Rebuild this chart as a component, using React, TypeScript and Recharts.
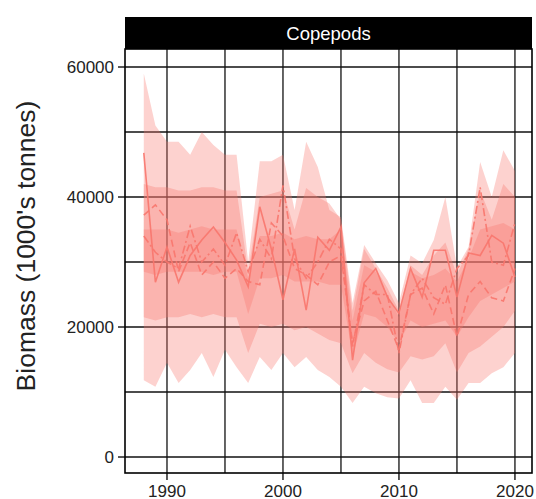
import React from "react";
import { ComposedChart, Area, Line, XAxis, YAxis, CartesianGrid } from "recharts";

const years = [1988,1989,1990,1991,1992,1993,1994,1995,1996,1997,1998,1999,2000,2001,2002,2003,2004,2005,2006,2007,2008,2009,2010,2011,2012,2013,2014,2015,2016,2017,2018,2019,2020];

const solidSeries = [46800,26900,32300,26900,31000,33400,35400,33000,30300,26200,38500,32000,24200,32000,22600,33800,31800,35400,14900,26800,29000,24600,22100,29000,24600,31800,31800,24600,31400,31000,34100,32900,27700];
const dashedSeries = [37200,38800,36500,28500,33000,28000,30000,27500,29000,27000,26500,36000,34000,29000,28000,26500,30000,31000,17500,24000,25500,21000,16500,25000,26000,22000,26500,18500,25000,27000,24500,24000,29000];
const dashDotSeries = [34000,31500,30000,29000,35500,30000,32000,29500,34500,28500,33500,30500,41800,30500,27500,30000,33500,32000,17000,26500,25000,25000,16000,25000,27500,24500,23500,29000,31000,41500,30000,29500,36000];

const outerLow = [11800,10800,14500,11400,13400,16000,12300,16500,13800,11400,15400,13400,16000,13800,15400,13400,12300,10800,8300,10800,9800,9200,9000,11800,8300,8300,10800,8800,11400,11400,12900,13800,16000];
const outerHigh = [59000,51000,48500,48500,46500,50000,48000,46500,46500,30000,45500,45500,46500,38000,48500,44600,38000,36900,23700,32600,29800,27200,23700,31000,29800,33400,40000,29200,32300,45400,40000,47200,44000];
const midLow = [21500,21000,21500,21500,22000,21500,22000,21500,21500,16000,20500,20000,20500,19500,20000,19000,18000,17500,12900,16000,14500,13500,13000,15500,15000,15500,17500,13000,16000,17000,18500,20000,22500];
const midHigh = [42000,41500,41500,41000,41000,41500,41500,41000,41000,28500,40000,40500,41000,35000,41400,40000,39000,36500,22500,32000,29000,26000,22500,29500,28000,31000,33000,28000,32000,41000,36500,42000,40000];
const innerLow = [28500,28000,28500,28500,28500,28500,28000,28500,28500,22000,27500,27500,28000,27000,27000,27000,26500,26500,15500,22000,21500,20000,17500,21000,20000,20500,21000,18500,21500,24000,25000,26000,27000];
const innerHigh = [35000,35000,35000,34500,35000,35500,35000,35000,35000,27500,34000,34000,34500,33500,34000,33500,33500,35000,21000,29500,28500,25000,21500,28500,27500,28000,29000,27000,30500,35000,35500,36000,35000];

const xTicks = [1990, 2000, 2010, 2020];
const xGrid = [1990, 1995, 2000, 2005, 2010, 2015, 2020];
const yTicks = [0, 20000, 40000, 60000];
const yGrid = [0, 10000, 20000, 30000, 40000, 50000, 60000];

const data = years.map((year, i) => ({
  year,
  solid: solidSeries[i],
  dashed: dashedSeries[i],
  dashdot: dashDotSeries[i],
  outer: [outerLow[i], outerHigh[i]],
  mid: [midLow[i], midHigh[i]],
  inner: [innerLow[i], innerHigh[i]],
}));

const W = 536;
const H = 499;
const PL = 125;
const PR = 532;
const PT = 49;
const PB = 473;
const FONT = "'Liberation Sans', Arial, Helvetica, sans-serif";
const RED = "#F8766D";

export default function App() {
  const yAxisW = 60;
  const xAxisH = H - PB;
  return (
    <div style={{ position: "absolute", left: 0, top: 0, width: W, height: H, background: "#fff", fontFamily: FONT }}>
      <ComposedChart
        width={W}
        height={H}
        data={data}
        margin={{ top: PT, right: W - PR, bottom: 0, left: PL - yAxisW }}
      >
        <CartesianGrid
          stroke="#111"
          strokeWidth={1.3}
          horizontalValues={yGrid}
          verticalValues={xGrid}
        />
        <XAxis
          type="number"
          dataKey="year"
          domain={[1986.38, 2021.47]}
          ticks={xTicks}
          allowDataOverflow
          axisLine={false}
          tickSize={7}
          tickMargin={5}
          height={xAxisH}
          tickLine={{ stroke: "#000", strokeWidth: 1.3 }}
          tick={{ fill: "#222", fontSize: 17, fontFamily: FONT }}
        />
        <YAxis
          type="number"
          domain={[-2460, 62770]}
          ticks={yTicks}
          allowDataOverflow
          axisLine={false}
          tickSize={7}
          tickMargin={4}
          width={yAxisW}
          tickLine={{ stroke: "#000", strokeWidth: 1.3 }}
          tick={{ fill: "#222", fontSize: 17, fontFamily: FONT }}
        />
        <Area dataKey="outer" type="linear" stroke="none" fill={RED} fillOpacity={0.33} isAnimationActive={false} />
        <Area dataKey="mid" type="linear" stroke="none" fill={RED} fillOpacity={0.33} isAnimationActive={false} />
        <Area dataKey="inner" type="linear" stroke="none" fill={RED} fillOpacity={0.33} isAnimationActive={false} />
        <Line dataKey="solid" type="linear" stroke={RED} strokeOpacity={0.9} strokeWidth={1.6} dot={false} isAnimationActive={false} />
        <Line dataKey="dashed" type="linear" stroke={RED} strokeOpacity={0.9} strokeWidth={1.6} strokeDasharray="7 4" dot={false} isAnimationActive={false} />
        <Line dataKey="dashdot" type="linear" stroke={RED} strokeOpacity={0.9} strokeWidth={1.6} strokeDasharray="8 3 2 3" dot={false} isAnimationActive={false} />
      </ComposedChart>
      <svg width={W} height={H} style={{ position: "absolute", left: 0, top: 0, pointerEvents: "none" }}>
        <rect x={PL} y={17} width={PR - PL} height={PT - 17} fill="#000" />
        <text x={(PL + PR) / 2} y={(17 + PT) / 2} textAnchor="middle" dominantBaseline="central" fill="#fff" fontSize={18.5} fontFamily={FONT}>Copepods</text>
        <rect x={PL} y={PT} width={PR - PL} height={PB - PT} fill="none" stroke="#000" strokeWidth={1.6} />
        <text x={26} y={246} transform="rotate(-90 26 246)" textAnchor="middle" dominantBaseline="central" fill="#222" fontSize={26.5} fontFamily={FONT}>Biomass (1000's tonnes)</text>
      </svg>
    </div>
  );
}
